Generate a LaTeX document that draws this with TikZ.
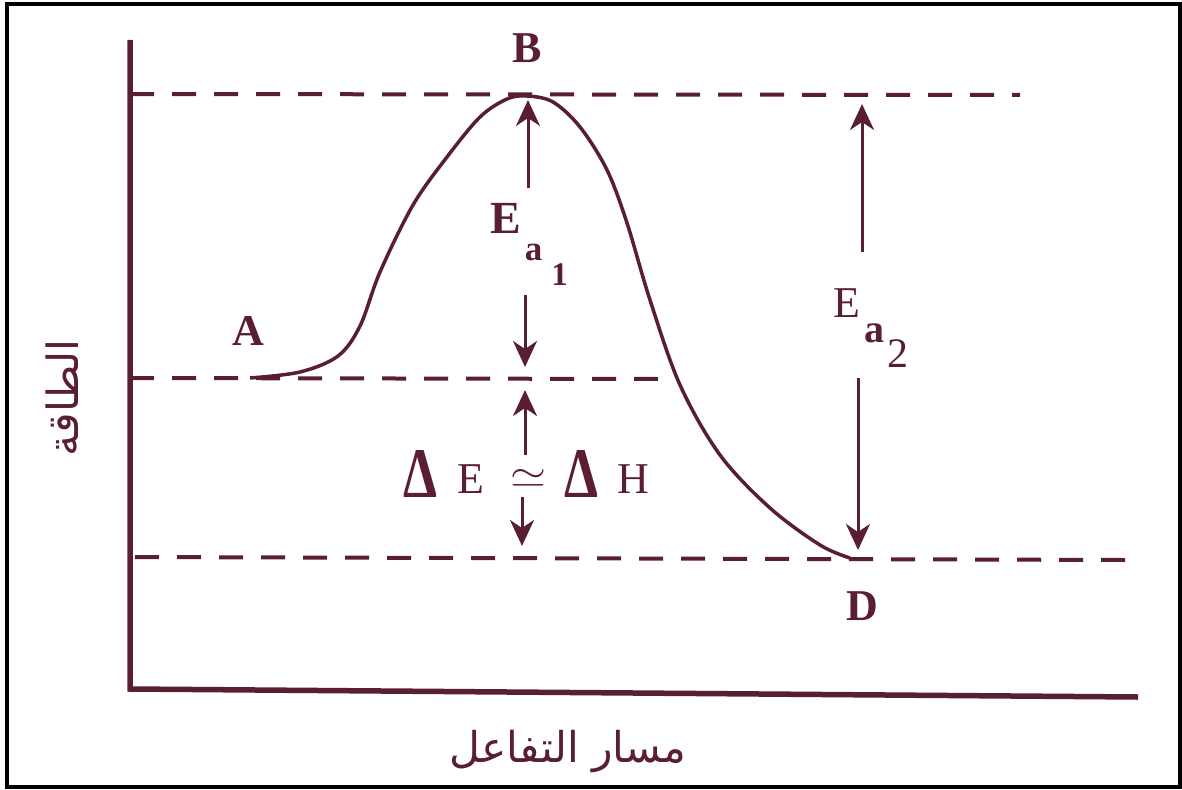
\documentclass[tikz,border=0pt]{standalone}
\usepackage{fontspec}
\usepackage{graphicx}
\setmainfont{Liberation Serif}
\newfontfamily\arabicfont[Script=Arabic]{DejaVu Sans}
\TeXXeTstate=1
\usetikzlibrary{arrows.meta}
\definecolor{ink}{HTML}{5A1E33}
\tikzset{
  level/.style={ink, line width=4pt, dash pattern=on 24pt off 18pt},
  axis/.style={ink, line width=5.5pt},
  energyarrow/.style={ink, line width=3pt, -{Stealth[length=26pt,width=24pt,inset=8pt]}},
  lbl/.style={ink, inner sep=0pt, anchor=base west},
  curve/.style={ink, line width=3.5pt},
}
\begin{document}
\begin{tikzpicture}[x=1pt,y=-1pt]
\useasboundingbox (0,0) rectangle (1182,789);
\draw[black, line width=4pt] (7,4) rectangle (1180,787);
% axes
\coordinate (ytop) at (130,40);
\coordinate (origin) at (130,689);
\coordinate (xend) at (1138,697);
\draw[axis] (ytop) -- (origin) -- (xend);
% energy levels
\coordinate (L1a) at (130,94);  \coordinate (L1b) at (1020,95);
\coordinate (L2a) at (130,378); \coordinate (L2b) at (665,379);
\coordinate (L3a) at (135,557); \coordinate (L3b) at (1125,560);
\draw[level] (L1a) -- (L1b);
\draw[level] (L2a) -- (L2b);
\draw[level] (L3a) -- (L3b);
% reaction curve
\draw[curve] plot[smooth, tension=0.55] coordinates {
  (250,378) (300,372) (338,356) (360,326) (380,272) (413,205) (447,157)
  (480,117) (507,99) (527,96) (553,102) (580,127) (607,170) (627,223)
  (650,300) (680,385) (720,455) (770,508) (820,545) (850,558)};
% point labels
\node[lbl, font=\bfseries\fontsize{44}{44}\selectfont] (B) at (512,63) {B};
\node[lbl, font=\bfseries\fontsize{44}{44}\selectfont] (A) at (232,345) {A};
\node[lbl, font=\bfseries\fontsize{44}{44}\selectfont] (D) at (846,620) {D};
% Ea1
\node[lbl] (Ea1) at (490,233) {\bfseries\fontsize{46}{46}\selectfont E\hspace{4pt}\raisebox{-27pt}{\fontsize{35}{35}\selectfont a}\hspace{9pt}\raisebox{-52pt}{\fontsize{33}{33}\selectfont 1}};
\coordinate (peak) at (528,100);
\coordinate (ea1t) at (528,188);
\coordinate (ea1b) at (525,295);
\coordinate (mid) at (525,367);
\draw[energyarrow] (ea1t) -- (peak);
\draw[energyarrow] (ea1b) -- (mid);
% Delta E ~ Delta H
\node[lbl] (dEH) at (403,493) {\fontsize{44}{44}\selectfont\raisebox{-4pt}{\resizebox{34pt}{47pt}{\bfseries Δ}}\hspace{20pt}E\hspace{26pt}\raisebox{6pt}{\resizebox{36pt}{18pt}{$\simeq$}}\hspace{18pt}\raisebox{-4pt}{\resizebox{34pt}{47pt}{\bfseries Δ}}\hspace{19pt}H};
\coordinate (dEt) at (525,455);
\coordinate (dEtop) at (525,390);
\coordinate (dEb) at (522,497);
\coordinate (dEbot) at (522,546);
\draw[energyarrow] (dEt) -- (dEtop);
\draw[energyarrow] (dEb) -- (dEbot);
% Ea2
\node[lbl] (Ea2) at (833,317) {\fontsize{44}{44}\selectfont E\hspace{4pt}\raisebox{-25pt}{\bfseries\fontsize{40}{40}\selectfont a}\hspace{3pt}\raisebox{-50pt}{\fontsize{42}{42}\selectfont 2}};
\coordinate (ea2t) at (862,252);
\coordinate (ea2top) at (862,104);
\coordinate (ea2b) at (858,378);
\coordinate (ea2bot) at (858,550);
\draw[energyarrow] (ea2t) -- (ea2top);
\draw[energyarrow] (ea2b) -- (ea2bot);
% axis titles
\node[ink, inner sep=0pt] (xlabel) at (568,752) {\resizebox{237pt}{!}{\arabicfont\beginR مسار التفاعل\endR}};
\node[ink, inner sep=0pt, rotate=90] (ylabel) at (62,398) {\resizebox{117pt}{!}{\arabicfont\beginR الطاقة\endR}};
\end{tikzpicture}
\end{document}
